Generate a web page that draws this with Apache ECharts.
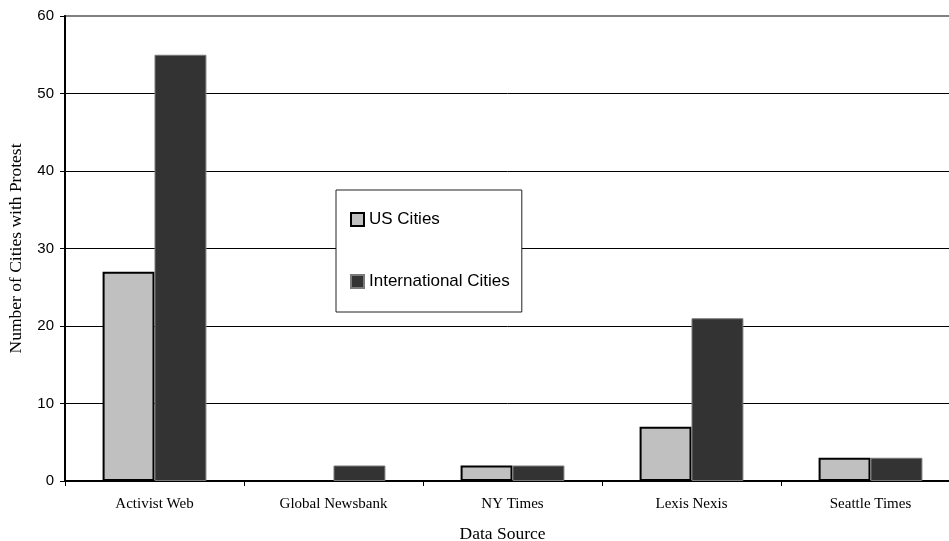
<!DOCTYPE html>
<html>
<head>
<meta charset="utf-8">
<script src="https://cdn.jsdelivr.net/npm/echarts@6/dist/echarts.min.js"></script>
<style>
html,body{margin:0;padding:0;background:#fff;}
#chart{width:949px;height:541px;}
</style>
</head>
<body>
<div id="chart"></div>
<script>
const categories = ['Activist Web', 'Global Newsbank', 'NY Times', 'Lexis Nexis', 'Seattle Times'];
const usCities = [27, 0, 2, 7, 3];
const internationalCities = [55, 2, 2, 21, 3];
const yTicks = { min: 0, max: 60, interval: 10 };
const seriesNames = ['US Cities', 'International Cities'];
const axisTitles = { x: 'Data Source', y: 'Number of Cities with Protest' };

const chart = echarts.init(document.getElementById('chart'), null, { renderer: 'canvas' });
const serif = "'Liberation Serif', 'Times New Roman', serif";
const sans = "'Liberation Sans', Arial, sans-serif";

chart.setOption({
  animation: false,
  backgroundColor: '#ffffff',
  grid: {
    left: 65, right: -11, top: 16, bottom: 60,
    containLabel: false, outerBoundsMode: 'none',
    show: true, borderColor: '#808080', borderWidth: 2, backgroundColor: 'transparent'
  },
  legend: {
    orient: 'vertical',
    left: 336,
    top: 190,
    padding: [21, 12, 22, 14],
    itemGap: 45,
    itemWidth: 13,
    itemHeight: 13,
    backgroundColor: '#ffffff',
    borderColor: '#222222',
    borderWidth: 1,
    borderRadius: 0,
    textStyle: { fontFamily: sans, fontSize: 17, color: '#000', lineHeight: 17 },
    data: [
      { name: seriesNames[0], icon: 'rect' },
      { name: seriesNames[1], icon: 'rect' }
    ]
  },
  xAxis: {
    type: 'category',
    data: categories,
    name: axisTitles.x,
    nameLocation: 'middle',
    nameGap: 44,
    nameTextStyle: { fontFamily: serif, fontSize: 17.5, color: '#000', padding: [0, 20, 0, 0] },
    axisLine: { show: true, lineStyle: { color: '#000', width: 2 } },
    axisTick: { show: true, alignWithLabel: false, length: 5, lineStyle: { color: '#000', width: 1 } },
    axisLabel: { fontFamily: serif, fontSize: 15, color: '#000', margin: 16 },
    splitLine: { show: false }
  },
  yAxis: {
    type: 'value',
    min: yTicks.min,
    max: yTicks.max,
    interval: yTicks.interval,
    name: axisTitles.y,
    nameLocation: 'middle',
    nameGap: 40,
    nameRotate: 90,
    nameTextStyle: { fontFamily: serif, fontSize: 17.5, color: '#000' },
    axisLine: { show: true, lineStyle: { color: '#000', width: 2 } },
    axisTick: { show: true, inside: false, length: 5, lineStyle: { color: '#000', width: 1 } },
    axisLabel: { fontFamily: sans, fontSize: 15, color: '#000', margin: 11 },
    splitLine: {
      show: true,
      lineStyle: {
        color: ['#000', '#000', '#000', '#000', '#000', '#000', 'rgba(0,0,0,0)'],
        width: 1
      }
    }
  },
  series: [
    {
      name: seriesNames[0],
      type: 'bar',
      data: usCities,
      barGap: '0%',
      barCategoryGap: '42%',
      itemStyle: { color: '#c0c0c0', borderColor: '#000000', borderWidth: 2 }
    },
    {
      name: seriesNames[1],
      type: 'bar',
      data: internationalCities,
      barGap: '0%',
      barCategoryGap: '42%',
      itemStyle: { color: '#333333', borderColor: '#7a7a7a', borderWidth: 1 }
    }
  ]
});
</script>
</body>
</html>
